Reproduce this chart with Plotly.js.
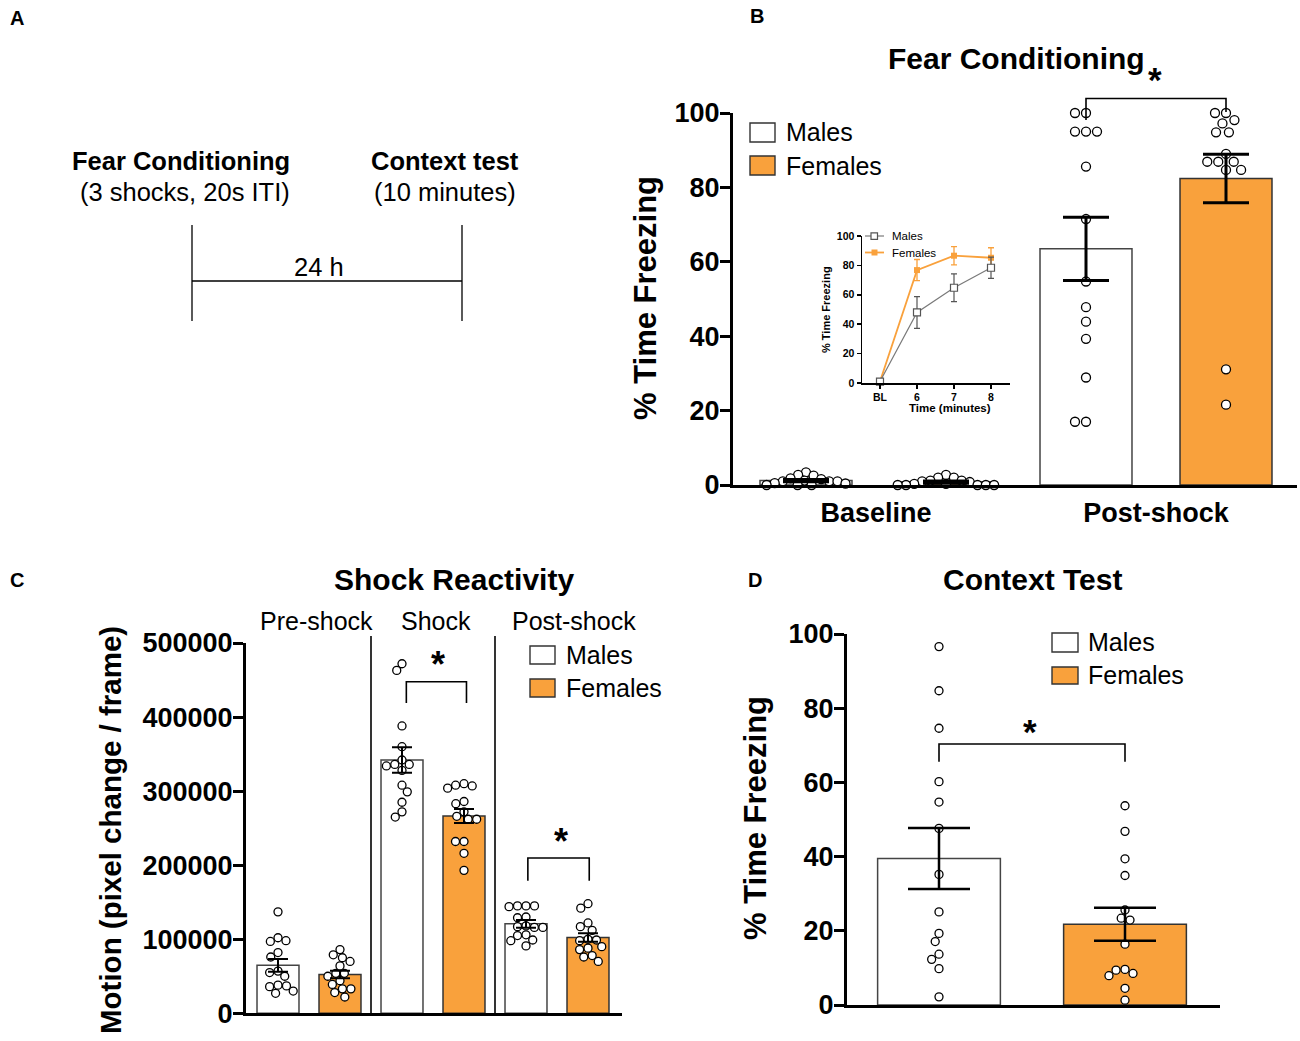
<!DOCTYPE html>
<html><head><meta charset="utf-8">
<script src="https://cdn.plot.ly/plotly-3.0.1.min.js"></script>
<style>html,body{margin:0;padding:0;background:#fff;} #chart{width:1300px;height:1041px;}</style>
</head><body><div id="chart"></div>
<script>
// ================= DATA =================
const sexes = ['Males', 'Females'];

// Panel B: Fear Conditioning
const fcPhases = ['Baseline', 'Post-shock'];
const fcMaleMean = [1.2, 63.5];
const fcMaleSem = [0.3, 8.5];
const fcFemaleMean = [0.8, 82.4];
const fcFemaleSem = [0.3, 6.5];
const fcMaleBaseline = [3.4, 2.7, 2.5, 1.8, 1.6, 1.2, 1.0, 1.0, 1.0, 0.5, 0.4, 0, 0, 0];
const fcFemaleBaseline = [2.7, 2.0, 2.0, 1.2, 1.2, 1.0, 0.8, 0.3, 0.3, 0, 0, 0, 0, 0];
const fcMalePost = [100, 100, 95, 95, 95, 85.6, 71.5, 54.7, 47.8, 43.9, 39.3, 28.9, 17, 17];
const fcFemalePost = [100, 100, 98.1, 97.2, 94.8, 94.8, 89, 86.9, 86.9, 86.9, 84.7, 84.7, 31.1, 21.6];
const pctTicks = [0, 20, 40, 60, 80, 100];

// Panel B inset: freezing over time
const insetTimes = ['BL', '6', '7', '8'];
const insetMaleMean = [1, 48, 64.8, 78.4];
const insetMaleSem = [0.5, 10.8, 9.5, 7.2];
const insetFemaleMean = [1, 76.8, 86.6, 85.2];
const insetFemaleSem = [0.5, 7.2, 6.2, 6.8];

// Panel C: Shock Reactivity
const srPhases = ['Pre-shock', 'Shock', 'Post-shock'];
const srMaleMean = [64800, 342000, 120800];
const srMaleSem = [8600, 17200, 5300];
const srFemaleMean = [52400, 266400, 102300];
const srFemaleSem = [5200, 9400, 5700];
const srMalePre = [137000, 102000, 98000, 97000, 82000, 76000, 57000, 55000, 50000, 38000, 37000, 36000, 30000, 27000];
const srFemalePre = [86000, 79000, 75000, 70000, 64000, 54000, 54000, 50000, 44000, 39000, 33000, 33000, 28000, 22000];
const srMaleShock = [472000, 463000, 388000, 360000, 342000, 336000, 336000, 334000, 328000, 308000, 299000, 285000, 272000, 265000];
const srFemaleShock = [310000, 308000, 307000, 304000, 286000, 283000, 272000, 266000, 262000, 262000, 232000, 232000, 216000, 193000];
const srMalePost = [145000, 145000, 145000, 144000, 130000, 129000, 118000, 117000, 116000, 116000, 106000, 105000, 99000, 98000, 91000];
const srFemalePost = [148000, 142000, 122000, 117000, 112000, 100000, 99000, 98000, 90000, 88000, 86000, 78000, 76000, 70000];
const srTicks = [0, 100000, 200000, 300000, 400000, 500000];

// Panel D: Context Test
const ctMean = [39.5, 21.75];
const ctSem = [8.2, 4.45];
const ctMalePts = [96.6, 84.7, 74.6, 60.2, 54.7, 47.6, 35.2, 25.1, 19.3, 17.1, 13.7, 12.3, 9.8, 2.2];
const ctFemalePts = [53.7, 46.8, 39.4, 34.9, 25.6, 23.4, 22.9, 16.4, 9.6, 9.4, 8.5, 7.9, 4.5, 1.3];

// ================= STYLE / LAYOUT HELPERS =================
const W = 1300, H = 1041;
const PX = x => x / W;
const PY = y => 1 - y / H;
const FONT = 'Liberation Sans, Arial, Helvetica, sans-serif';
const ORANGE = '#F9A13C';
const BLACK = '#000';

// beeswarm: returns x positions (data units) so dots do not overlap
function swarm(vals, center, pxPerX, pxPerY, dmin) {
  const order = vals.map((v, i) => i).sort((a, b) => vals[b] - vals[a]);
  const placed = [];
  const out = new Array(vals.length);
  let flip = 1;
  order.forEach(i => {
    const y = vals[i] * pxPerY;
    const ints = [];
    placed.forEach(p => {
      const dy = Math.abs(p.y - y);
      if (dy < dmin) {
        const dx = Math.sqrt(dmin * dmin - dy * dy);
        ints.push([p.x - dx, p.x + dx]);
      }
    });
    const cands = [0];
    ints.forEach(iv => cands.push(iv[0], iv[1]));
    cands.sort((a, b) => (Math.abs(a) - Math.abs(b)) || (flip * (b - a)));
    let chosen = 0;
    for (const c of cands) {
      if (ints.every(iv => c <= iv[0] + 1e-9 || c >= iv[1] - 1e-9)) { chosen = c; break; }
    }
    flip = -flip;
    placed.push({ x: chosen, y: y });
    out[i] = center + chosen / pxPerX;
  });
  return out;
}

function dotTrace(vals, xs, xa, ya, size) {
  return {
    type: 'scatter', mode: 'markers', x: xs, y: vals, xaxis: xa, yaxis: ya,
    cliponaxis: false, hoverinfo: 'skip', showlegend: false,
    marker: { symbol: 'circle', size: size, color: '#fff', line: { color: BLACK, width: 1.3 } }
  };
}
function errTrace(xs, means, sems, xa, ya, thick, width) {
  return {
    type: 'scatter', mode: 'markers', x: xs, y: means, xaxis: xa, yaxis: ya,
    cliponaxis: false, hoverinfo: 'skip', showlegend: false,
    marker: { size: 1, color: 'rgba(0,0,0,0)' },
    error_y: { type: 'data', array: sems, visible: true, color: BLACK, thickness: thick, width: width }
  };
}
function barTrace(xs, means, xa, ya, width) {
  return {
    type: 'bar', x: xs, y: means, xaxis: xa, yaxis: ya, width: width,
    hoverinfo: 'skip', showlegend: false,
    marker: {
      color: xs.map((x, k) => k % 2 === 0 ? '#fff' : ORANGE),
      line: { color: xs.map((x, k) => k % 2 === 0 ? '#444' : '#333'), width: 1.5 }
    }
  };
}

const traces = [];

// ---------- Panel B ----------
const bPxX = 140, bPxY = 3.72;
const bX = [], bY = [];
fcPhases.forEach((p, i) => { bX.push(i * 2, i * 2 + 1); bY.push(fcMaleMean[i], fcFemaleMean[i]); });
traces.push(barTrace(bX, bY, 'x', 'y', 0.657));
[[fcMaleBaseline, 0, 8.3], [fcFemaleBaseline, 1, 8.3], [fcMalePost, 2, 11], [fcFemalePost, 3, 11]].forEach(([v, c, d]) => {
  traces.push(dotTrace(v, swarm(v, c, bPxX, bPxY, d), 'x', 'y', 9));
});
const bSem = []; fcPhases.forEach((p, i) => bSem.push(fcMaleSem[i], fcFemaleSem[i]));
traces.push(errTrace(bX, bY, bSem, 'x', 'y', 3, 23));

// ---------- Inset ----------
const insetX = insetTimes.map((t, i) => i);
traces.push({
  type: 'scatter', mode: 'lines+markers', x: insetX, y: insetFemaleMean, xaxis: 'x2', yaxis: 'y2',
  cliponaxis: false, hoverinfo: 'skip', showlegend: false,
  line: { color: ORANGE, width: 1.8 },
  marker: { symbol: 'square', size: 6, color: ORANGE },
  error_y: { type: 'data', array: insetFemaleSem, visible: true, color: ORANGE, thickness: 1.3, width: 3 }
});
traces.push({
  type: 'scatter', mode: 'lines+markers', x: insetX, y: insetMaleMean, xaxis: 'x2', yaxis: 'y2',
  cliponaxis: false, hoverinfo: 'skip', showlegend: false,
  line: { color: '#7a7a7a', width: 1.2 },
  marker: { symbol: 'square', size: 7, color: '#fff', line: { color: '#555', width: 1.2 } },
  error_y: { type: 'data', array: insetMaleSem, visible: true, color: '#555', thickness: 1.2, width: 3 }
});

// ---------- Panel C ----------
const cPxX = 62, cPxY = 74.1 / 100000;
const cX = [], cY = [], cSem = [];
srPhases.forEach((p, i) => { cX.push(i * 2, i * 2 + 1); cY.push(srMaleMean[i], srFemaleMean[i]); cSem.push(srMaleSem[i], srFemaleSem[i]); });
traces.push(barTrace(cX, cY, 'x3', 'y3', 0.677));
[[srMalePre, 0], [srFemalePre, 1], [srMaleShock, 2], [srFemaleShock, 3], [srMalePost, 4], [srFemalePost, 5]].forEach(([v, c]) => {
  traces.push(dotTrace(v, swarm(v, c, cPxX, cPxY, 8.5), 'x3', 'y3', 8));
});
traces.push(errTrace(cX, cY, cSem, 'x3', 'y3', 2, 10));

// ---------- Panel D ----------
const dPxX = 186, dPxY = 3.71;
const dX = sexes.map((s, i) => i);
traces.push(barTrace(dX, ctMean, 'x4', 'y4', 0.66));
traces.push(dotTrace(ctMalePts, swarm(ctMalePts, 0, dPxX, dPxY, 9), 'x4', 'y4', 8));
traces.push(dotTrace(ctFemalePts, swarm(ctFemalePts, 1, dPxX, dPxY, 9), 'x4', 'y4', 8));
traces.push(errTrace(dX, ctMean, ctSem, 'x4', 'y4', 2.5, 31));

// ================= AXES =================
function yAxis(anchor, domain, range, vals, text, size, lw, tl, standoff) {
  return {
    anchor: anchor, domain: domain, range: range, showline: true, linewidth: lw, linecolor: BLACK,
    showgrid: false, zeroline: false, tickvals: vals, ticktext: text, ticks: 'outside',
    ticklen: tl, tickwidth: lw, tickcolor: BLACK, fixedrange: true, ticklabelstandoff: standoff,
    tickfont: { family: FONT, size: size, color: BLACK, weight: 700 }
  };
}
function xAxis(anchor, domain, range, lw) {
  return {
    anchor: anchor, domain: domain, range: range, showline: true, linewidth: lw, linecolor: BLACK,
    showgrid: false, zeroline: false, fixedrange: true, showticklabels: false, ticks: ''
  };
}

const layout = {
  width: W, height: H, margin: { l: 0, r: 0, t: 0, b: 0 },
  paper_bgcolor: '#fff', plot_bgcolor: 'rgba(0,0,0,0)', showlegend: false,
  xaxis: Object.assign(xAxis('y', [PX(733), PX(1297)], [(733 - 806) / 140, (1297 - 806) / 140], 3), {
    showticklabels: true, tickvals: [0.5, 2.5], ticktext: fcPhases, ticks: 'outside', ticklen: 2,
    tickcolor: 'rgba(0,0,0,0)', tickfont: { family: FONT, size: 27, color: BLACK, weight: 700 }
  }),
  yaxis: yAxis('x', [PY(485), PY(113)], [0, 100], pctTicks, pctTicks.map(String), 27, 3, 10, -5),
  xaxis2: Object.assign(xAxis('y2', [PX(862), PX(1010)], [(862 - 880) / 37, (1010 - 880) / 37], 1.5), {
    showticklabels: true, tickvals: insetX, ticktext: insetTimes, ticks: 'outside', ticklen: 4,
    tickwidth: 1.5, tickcolor: BLACK, tickfont: { family: FONT, size: 10.5, color: BLACK, weight: 700 }
  }),
  yaxis2: yAxis('x2', [PY(383), PY(236)], [0, 100], pctTicks, pctTicks.map(String), 10.5, 1.5, 4, 0),
  xaxis3: xAxis('y3', [PX(246), PX(622)], [(246 - 278) / 62, (622 - 278) / 62], 3),
  yaxis3: yAxis('x3', [PY(1013.3), PY(643)], [0, 500000], srTicks, srTicks.map(String), 27, 3, 10, -5),
  xaxis4: xAxis('y4', [PX(847), PX(1220)], [(847 - 939) / 186, (1220 - 939) / 186], 3),
  yaxis4: yAxis('x4', [PY(1005), PY(634)], [0, 100], pctTicks, pctTicks.map(String), 27, 3, 10, -5)
};

// ================= SHAPES =================
const shapes = [];
function pline(x0, y0, x1, y1, w) {
  shapes.push({ type: 'line', xref: 'paper', yref: 'paper', x0: PX(x0), y0: PY(y0), x1: PX(x1), y1: PY(y1), line: { color: BLACK, width: w } });
}
// Panel A timeline
pline(192, 225, 192, 321, 1.3);
pline(462, 225, 462, 321, 1.3);
pline(192, 281, 462, 281, 1.3);
// brackets (x in data units, y in paper)
function bracket(xa, xl, xr, yTop, yL, yR, w) {
  shapes.push({ type: 'path', xref: xa, yref: 'paper',
    path: `M ${xl},${PY(yL)} L ${xl},${PY(yTop)} L ${xr},${PY(yTop)} L ${xr},${PY(yR)}`,
    line: { color: BLACK, width: w } });
}
bracket('x', 2, 3, 98.5, 120, 112, 1.6);
bracket('x3', 2.07, 3.04, 681.7, 703, 703, 1.6);
bracket('x3', 4.03, 5.02, 858, 880.7, 880.7, 1.6);
bracket('x4', 0, 1, 744, 761.7, 761.7, 1.6);
// C dividers
[1.5, 3.5].forEach(xv => shapes.push({ type: 'line', xref: 'x3', yref: 'paper', x0: xv, x1: xv, y0: PY(1013), y1: PY(636), line: { color: BLACK, width: 1.6 } }));
// legend swatches
function swatch(x0, y0, x1, y1, fill) {
  shapes.push({ type: 'rect', xref: 'paper', yref: 'paper', x0: PX(x0), y0: PY(y0), x1: PX(x1), y1: PY(y1), fillcolor: fill, line: { color: '#333', width: 1.4 } });
}
swatch(750, 123, 775, 142, '#fff'); swatch(750, 156, 775, 175, ORANGE);
swatch(530, 646, 555, 664, '#fff'); swatch(530, 679, 555, 697, ORANGE);
swatch(1052, 633, 1078, 652, '#fff'); swatch(1052, 667, 1078, 684, ORANGE);
// inset legend
shapes.push({ type: 'line', xref: 'paper', yref: 'paper', x0: PX(865), x1: PX(884), y0: PY(236), y1: PY(236), line: { color: '#7a7a7a', width: 1.2 } });
shapes.push({ type: 'rect', xref: 'paper', yref: 'paper', x0: PX(871), x1: PX(877.5), y0: PY(232.8), y1: PY(239.3), fillcolor: '#fff', line: { color: '#555', width: 1.2 } });
shapes.push({ type: 'line', xref: 'paper', yref: 'paper', x0: PX(865), x1: PX(884), y0: PY(252.5), y1: PY(252.5), line: { color: ORANGE, width: 1.8 } });
shapes.push({ type: 'rect', xref: 'paper', yref: 'paper', x0: PX(871.5), x1: PX(877.5), y0: PY(249.5), y1: PY(255.5), fillcolor: ORANGE, line: { color: ORANGE, width: 0 } });
layout.shapes = shapes;

// ================= ANNOTATIONS =================
const ann = [];
function txt(s, x, y, size, bold, opts) {
  ann.push(Object.assign({
    text: s, xref: 'paper', yref: 'paper', x: PX(x), y: PY(y), xanchor: 'center', yanchor: 'middle',
    showarrow: false, font: { family: FONT, size: size, color: BLACK, weight: bold ? 700 : 400 }
  }, opts || {}));
}
// panel letters
txt('A', 17, 18, 20, true); txt('B', 757, 16, 20, true); txt('C', 17, 580, 20, true); txt('D', 755, 580, 20, true);
// Panel A
txt('Fear Conditioning', 181, 161, 25.5, true);
txt('(3 shocks, 20s ITI)', 185, 192, 25.5, false);
txt('Context test', 445, 161, 25.5, true);
txt('(10 minutes)', 445, 192, 25.5, false);
txt('24 h', 319, 267, 25.5, false);
// Panel B
txt('Fear Conditioning', 1016, 58, 30, true);
txt('*', 1155, 80, 35, true);
txt('% Time Freezing', 645, 298, 31, true, { textangle: -90 });
txt(sexes[0], 784, 132, 25, false, { xanchor: 'left' });
txt(sexes[1], 784, 166, 25, false, { xanchor: 'left' });
// inset
txt('% Time Freezing', 826, 310, 11, true, { textangle: -90 });
txt('Time (minutes)', 950, 408, 11.5, true);
txt(sexes[0], 890, 236, 11.5, false, { xanchor: 'left' });
txt(sexes[1], 890, 252.5, 11.5, false, { xanchor: 'left' });
// Panel C
txt('Shock Reactivity', 454, 579, 30, true);
txt('Motion (pixel change / frame)', 110, 830, 29.5, true, { textangle: -90 });
txt(srPhases[0], 316.5, 621, 25, false);
txt(srPhases[1], 435.5, 621, 25, false);
txt(srPhases[2], 573.5, 621, 25, false);
txt('*', 438, 664, 36, true);
txt('*', 561, 841, 36, true);
txt(sexes[0], 564, 655, 25, false, { xanchor: 'left' });
txt(sexes[1], 564, 688, 25, false, { xanchor: 'left' });
// Panel D
txt('Context Test', 1032, 579, 30, true);
txt('% Time Freezing', 755, 818, 31, true, { textangle: -90 });
txt('*', 1030, 731, 35, true);
txt(sexes[0], 1086, 642, 25, false, { xanchor: 'left' });
txt(sexes[1], 1086, 675, 25, false, { xanchor: 'left' });
layout.annotations = ann;

Plotly.newPlot('chart', traces, layout, { staticPlot: true, displayModeBar: false });
</script></body></html>
